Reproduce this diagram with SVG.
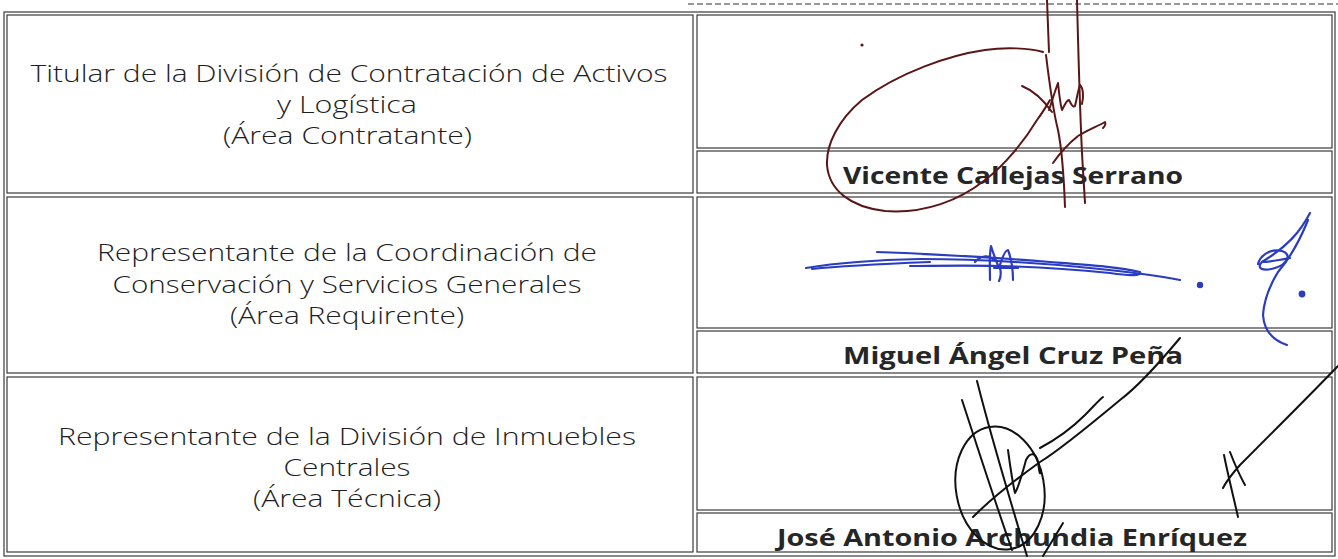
<svg xmlns="http://www.w3.org/2000/svg" width="1338" height="559" viewBox="0 0 1338 559">
<style>
.cell{fill:none;stroke:#3a3a3a;stroke-width:1.2}
.lbl{font-family:"Open Sans","Liberation Sans",sans-serif;font-weight:300;font-size:24px;fill:#1e1e1e;text-anchor:middle}
.name{font-family:"Open Sans","Liberation Sans",sans-serif;font-weight:700;font-size:24px;fill:#262626;text-anchor:middle}
.sigr{fill:none;stroke:#5a1616;stroke-width:2;stroke-linecap:round;stroke-linejoin:round}
.sigb{fill:none;stroke:#2a3cc2;stroke-width:2.2;stroke-linecap:round;stroke-linejoin:round}
.sigk{fill:none;stroke:#111;stroke-width:2;stroke-linecap:round;stroke-linejoin:round}
</style>
<rect width="1338" height="559" fill="#fff"/>
<line x1="688" y1="4" x2="1338" y2="4" stroke="#333" stroke-width="1.2" stroke-dasharray="6 3"/>
<rect class="cell" x="4" y="12" width="1331" height="544"/>

<g id="row1">
<rect class="cell" x="7" y="15" width="686" height="178"/>
<text class="lbl" x="349" y="82" textLength="637" lengthAdjust="spacingAndGlyphs">Titular de la División de Contratación de Activos</text>
<text class="lbl" x="347" y="113" textLength="140" lengthAdjust="spacingAndGlyphs">y Logística</text>
<text class="lbl" x="347.5" y="144" textLength="249" lengthAdjust="spacingAndGlyphs">(Área Contratante)</text>
<rect class="cell" x="697" y="15" width="635" height="133"/>
<rect class="cell" x="697" y="151" width="635" height="42"/>
<text class="name" x="1013" y="184" textLength="340" lengthAdjust="spacingAndGlyphs">Vicente Callejas Serrano</text>
</g>

<g id="row2">
<rect class="cell" x="7" y="197" width="686" height="176"/>
<text class="lbl" x="347" y="261" textLength="500" lengthAdjust="spacingAndGlyphs">Representante de la Coordinación de</text>
<text class="lbl" x="347" y="293" textLength="469" lengthAdjust="spacingAndGlyphs">Conservación y Servicios Generales</text>
<text class="lbl" x="347" y="324" textLength="234" lengthAdjust="spacingAndGlyphs">(Área Requirente)</text>
<rect class="cell" x="697" y="197" width="635" height="131"/>
<rect class="cell" x="697" y="331" width="635" height="42"/>
<text class="name" x="1013" y="364" textLength="340" lengthAdjust="spacingAndGlyphs">Miguel Ángel Cruz Peña</text>
</g>

<g id="row3">
<rect class="cell" x="7" y="377" width="686" height="175"/>
<text class="lbl" x="347" y="445" textLength="578" lengthAdjust="spacingAndGlyphs">Representante de la División de Inmuebles</text>
<text class="lbl" x="347" y="476" textLength="127" lengthAdjust="spacingAndGlyphs">Centrales</text>
<text class="lbl" x="347" y="507" textLength="188" lengthAdjust="spacingAndGlyphs">(Área Técnica)</text>
<rect class="cell" x="697" y="377" width="635" height="133"/>
<rect class="cell" x="697" y="513" width="635" height="39"/>
<text class="name" x="1012" y="546" textLength="470" lengthAdjust="spacingAndGlyphs">José Antonio Archundia Enríquez</text>
</g>

<g id="signature1">
<circle cx="862" cy="45" r="1.6" fill="#5a1616"/>
<path class="sigr" d="M1043,52 C1030,48 1005,47 985,50 C950,55 900,72 862,100 C838,120 826,145 827,165 C829,190 850,207 885,211 C925,214 960,200 985,180 C1005,165 1025,140 1037,120 C1043,112 1047,105 1050,100"/>
<path class="sigr" d="M1047,0 L1049,52 M1046,55 C1049,80 1053,110 1058,130 C1062,150 1064,180 1065,207" stroke-width="2.4"/>
<path class="sigr" d="M1077,0 C1078,40 1079,80 1081,130 C1082,160 1084,185 1085,203" stroke-width="2.4"/>
<path class="sigr" d="M1022,86 C1032,90 1042,98 1052,112 M1049,110 C1053,98 1056,88 1058,83 C1059,93 1060,103 1062,110 C1065,104 1067,100 1069,100 C1071,104 1073,108 1075,106 C1077,98 1078,90 1080,85 C1083,88 1084,96 1082,104"/>
<path class="sigr" d="M1053,163 C1060,153 1068,144 1078,136 C1088,130 1098,126 1105,122 C1106,124 1104,127 1103,128"/>
</g>

<g id="signature2">
<path class="sigb" d="M806,268 C830,264 870,260 920,259 C980,259 1040,263 1090,268 C1130,272 1160,276 1180,280"/>
<path class="sigb" d="M877,252 C930,254 990,257 1050,262 C1090,265 1120,267 1140,272 C1142,276 1130,276 1110,273 C1080,270 1040,267 1000,266 C960,265 930,266 910,266"/>
<path class="sigb" d="M812,269 C840,266 880,264 930,262"/>
<path class="sigb" d="M975,262 C980,256 988,254 994,260 M990,280 C990,268 989,256 991,246 C994,256 997,263 999,268 C1002,258 1005,250 1008,250 C1011,258 1013,270 1013,280 M1000,268 C1001,272 1001,277 999,281 M994,268 L1018,268"/>
<circle cx="1200" cy="285" r="3.2" fill="#2a3cc2"/>
<path class="sigb" d="M1310,213 C1300,232 1288,246 1262,262 C1256,268 1262,272 1275,268 C1288,264 1292,254 1282,251 C1270,248 1260,256 1258,264"/>
<path class="sigb" d="M1308,220 C1300,240 1290,258 1278,272 C1270,285 1264,300 1263,315 C1264,330 1272,340 1287,345"/>
<path class="sigb" d="M1262,262 C1270,262 1280,260 1290,258"/>
<circle cx="1302" cy="294" r="3.4" fill="#2a3cc2"/>
</g>

<g id="signature3">
<path class="sigk" d="M977,381 C992,440 1010,500 1027,556"/>
<path class="sigk" d="M962,400 C980,455 996,505 1012,550"/>
<ellipse class="sigk" cx="1000" cy="488" rx="44" ry="62" transform="rotate(-10 1000 488)" stroke-width="1.6"/>
<path class="sigk" d="M1008,450 C1010,465 1012,480 1015,493 C1018,488 1022,475 1026,460 C1030,452 1036,452 1038,462 C1039,470 1040,478 1041,470"/>
<path class="sigk" d="M1040,448 C1055,440 1072,428 1085,415 C1093,407 1098,401 1103,397"/>
<path class="sigk" d="M1180,338 C1160,362 1140,385 1120,400 C1090,425 1060,450 1040,462 C1015,480 990,500 973,517" stroke-width="1.5"/>
<path class="sigk" d="M1063,523 C1056,535 1049,546 1043,556"/>
<path class="sigk" d="M1338,366 C1310,395 1275,430 1240,465 C1232,474 1226,482 1223,488"/>
<path class="sigk" d="M1224,455 C1228,475 1233,495 1238,517 M1230,452 C1235,465 1240,476 1245,485"/>
</g>
</svg>
